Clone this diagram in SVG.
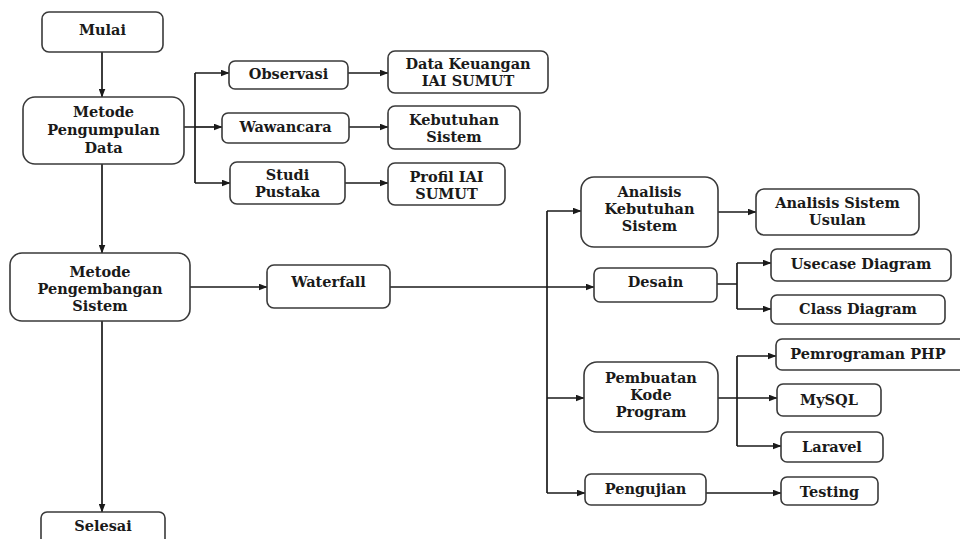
<svg xmlns="http://www.w3.org/2000/svg" width="960" height="539" viewBox="0 0 960 539">
<defs>
<marker id="ah" markerWidth="9" markerHeight="7" refX="8.5" refY="3.5" orient="auto" markerUnits="userSpaceOnUse">
<path d="M0,0 L9,3.5 L0,7 Z" fill="#1a1a1a"/>
</marker>
<style>
.box{fill:#fff;stroke:#3a3a3a;stroke-width:1.6}
.t{font-family:"DejaVu Serif","Liberation Serif",serif;font-weight:bold;font-size:14.5px;fill:#1a1a1a;text-anchor:middle}
.c{fill:none;stroke:#1a1a1a;stroke-width:1.7}
.a{marker-end:url(#ah)}
</style>
</defs>
<rect width="960" height="539" fill="#fff"/>
<g id="connectors">
<path class="c a" d="M102,52 V97"/>
<path class="c" d="M184,127 H195 M195,73 V183"/>
<path class="c a" d="M195,73 H229"/>
<path class="c a" d="M195,127 H222"/>
<path class="c a" d="M195,183 H230"/>
<path class="c a" d="M348,73 H388"/>
<path class="c a" d="M349,127 H388"/>
<path class="c a" d="M345,183 H388"/>
<path class="c a" d="M102,164 V253"/>
<path class="c a" d="M190,287 H267"/>
<path class="c a" d="M390,287 H594"/>
<path class="c" d="M547,211 V493"/>
<path class="c a" d="M547,211 H581"/>
<path class="c a" d="M547,398 H584"/>
<path class="c a" d="M547,493 H585"/>
<path class="c a" d="M718,212 H756"/>
<path class="c" d="M717,284 H737 M737,263 V309"/>
<path class="c a" d="M737,263 H771"/>
<path class="c a" d="M737,309 H771"/>
<path class="c" d="M718,398 H737 M737,356 V446"/>
<path class="c a" d="M737,356 H776"/>
<path class="c a" d="M737,398 H777"/>
<path class="c a" d="M737,446 H781"/>
<path class="c a" d="M706,493 H781"/>
<path class="c a" d="M102,321 V512"/>
</g>
<g id="mulai"><rect class="box" x="42" y="12" width="121" height="40" rx="7"/><text class="t" x="102.5" y="35">Mulai</text></g>
<g id="metode-pengumpulan"><rect class="box" x="23" y="97" width="161" height="67" rx="12"/><text class="t" x="103.5" y="117">Metode</text><text class="t" x="103.5" y="135">Pengumpulan</text><text class="t" x="103.5" y="153">Data</text></g>
<g id="observasi"><rect class="box" x="229" y="61" width="119" height="28" rx="6"/><text class="t" x="288.5" y="79">Observasi</text></g>
<g id="wawancara"><rect class="box" x="222" y="113" width="127" height="30" rx="6"/><text class="t" x="285.5" y="132">Wawancara</text></g>
<g id="studi-pustaka"><rect class="box" x="230" y="162" width="115" height="42" rx="7"/><text class="t" x="287.5" y="180">Studi</text><text class="t" x="287.5" y="197">Pustaka</text></g>
<g id="data-keuangan"><rect class="box" x="388" y="51" width="160" height="42" rx="7"/><text class="t" x="468" y="69">Data Keuangan</text><text class="t" x="468" y="86">IAI SUMUT</text></g>
<g id="kebutuhan-sistem"><rect class="box" x="388" y="106" width="132" height="43" rx="7"/><text class="t" x="454" y="125">Kebutuhan</text><text class="t" x="454" y="142">Sistem</text></g>
<g id="profil"><rect class="box" x="388" y="163" width="117" height="42" rx="7"/><text class="t" x="446.5" y="182">Profil IAI</text><text class="t" x="446.5" y="199">SUMUT</text></g>
<g id="metode-pengembangan"><rect class="box" x="10" y="253" width="180" height="68" rx="12"/><text class="t" x="100" y="277">Metode</text><text class="t" x="100" y="294">Pengembangan</text><text class="t" x="100" y="311">Sistem</text></g>
<g id="waterfall"><rect class="box" x="267" y="265" width="123" height="43" rx="7"/><text class="t" x="328.5" y="287">Waterfall</text></g>
<g id="selesai"><rect class="box" x="41" y="512" width="124" height="40" rx="6"/><text class="t" x="103" y="531">Selesai</text></g>
<g id="analisis-kebutuhan"><rect class="box" x="581" y="177" width="137" height="70" rx="13"/><text class="t" x="649.5" y="197">Analisis</text><text class="t" x="649.5" y="214">Kebutuhan</text><text class="t" x="649.5" y="231">Sistem</text></g>
<g id="analisis-usulan"><rect class="box" x="756" y="189" width="163" height="46" rx="8"/><text class="t" x="837.5" y="208">Analisis Sistem</text><text class="t" x="837.5" y="225">Usulan</text></g>
<g id="desain"><rect class="box" x="594" y="268" width="123" height="34" rx="6"/><text class="t" x="655.5" y="287">Desain</text></g>
<g id="usecase"><rect class="box" x="771" y="249" width="180" height="32" rx="6"/><text class="t" x="861" y="269">Usecase Diagram</text></g>
<g id="class"><rect class="box" x="771" y="295" width="174" height="29" rx="6"/><text class="t" x="858" y="314">Class Diagram</text></g>
<g id="pembuatan"><rect class="box" x="584" y="362" width="134" height="70" rx="13"/><text class="t" x="651" y="383">Pembuatan</text><text class="t" x="651" y="400">Kode</text><text class="t" x="651" y="417">Program</text></g>
<g id="php"><rect class="box" x="776" y="339" width="190" height="31" rx="6"/><text class="t" x="868" y="359">Pemrograman PHP</text></g>
<g id="mysql"><rect class="box" x="777" y="384" width="104" height="32" rx="6"/><text class="t" x="829" y="405">MySQL</text></g>
<g id="laravel"><rect class="box" x="781" y="432" width="102" height="30" rx="6"/><text class="t" x="832" y="452">Laravel</text></g>
<g id="pengujian"><rect class="box" x="585" y="474" width="121" height="31" rx="6"/><text class="t" x="645.5" y="494">Pengujian</text></g>
<g id="testing"><rect class="box" x="781" y="477" width="97" height="28" rx="6"/><text class="t" x="829.5" y="497">Testing</text></g>
</svg>
